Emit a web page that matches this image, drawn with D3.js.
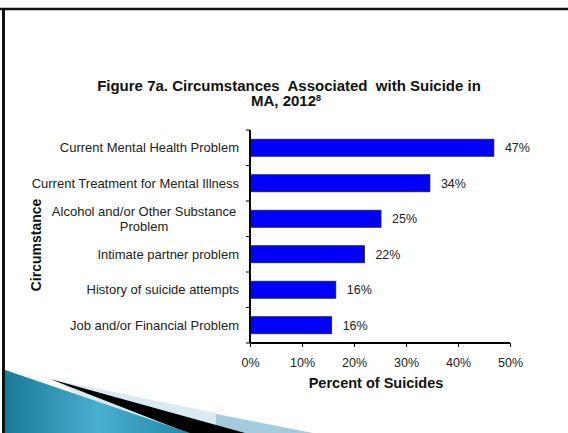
<!DOCTYPE html>
<html>
<head>
<meta charset="utf-8">
<script src="https://cdn.jsdelivr.net/npm/d3@7"></script>
<style>
  html, body { margin: 0; padding: 0; background: #fff; overflow: hidden; }
  svg { display: block; font-family: "Liberation Sans", Arial, sans-serif; }
</style>
</head>
<body>
<div id="chart"></div>
<script>
// Data
const categories = [
  "Current Mental Health Problem",
  "Current Treatment for Mental Illness",
  "Alcohol and/or Other Substance Problem",
  "Intimate partner problem",
  "History of suicide attempts",
  "Job and/or Financial Problem"
];
const values = [46.9, 34.6, 25.2, 22.0, 16.5, 15.7];
const valueLabels = ["47%", "34%", "25%", "22%", "16%", "16%"];
const xTicks = [0, 10, 20, 30, 40, 50];

// wrapped category label
const labelLines = {
  "Alcohol and/or Other Substance Problem": ["Alcohol and/or Other Substance", "Problem"]
};

const width = 568, height = 433;
const margin = { top: 130, left: 250 };
const innerWidth = 510 - margin.left;
const innerHeight = 343 - margin.top;

const svg = d3.select("#chart").append("svg")
  .attr("width", width)
  .attr("height", height)
  .attr("viewBox", `0 0 ${width} ${height}`);

// slide frame
svg.append("line").attr("x1", 0).attr("x2", width).attr("y1", 9).attr("y2", 9)
  .attr("stroke", "#111").attr("stroke-width", 2.5);
svg.append("line").attr("x1", 3.5).attr("x2", 3.5).attr("y1", 8).attr("y2", height)
  .attr("stroke", "#111").attr("stroke-width", 3);

// bottom-left slide decoration
const defs = svg.append("defs");
const grad = defs.append("linearGradient").attr("id", "teal")
  .attr("x1", "0%").attr("y1", "0%").attr("x2", "100%").attr("y2", "0%");
grad.append("stop").attr("offset", "0%").attr("stop-color", "#1a7a96");
grad.append("stop").attr("offset", "50%").attr("stop-color", "#4aaed0");
grad.append("stop").attr("offset", "100%").attr("stop-color", "#1f8aa8");

const deco = svg.append("g");
deco.append("polygon").attr("points", "60,381 216,413 216,433 120,433").attr("fill", "#d9eaf1");
deco.append("polygon").attr("points", "216,414 313,433 216,433").attr("fill", "#a3cbdd");
deco.append("polygon").attr("points", "50,379 245,433 188,433").attr("fill", "#000");
deco.append("polygon").attr("points", "5,370 190,433 5,433").attr("fill", "url(#teal)");

// title
const title = svg.append("text")
  .attr("text-anchor", "middle")
  .attr("font-weight", "bold")
  .attr("font-size", 15)
  .attr("fill", "#111")
  .style("white-space", "pre");
title.append("tspan").attr("x", 289).attr("y", 91).text("Figure 7a. Circumstances  Associated  with Suicide in");
title.append("tspan").attr("x", 286).attr("y", 106).text("MA, 2012");
title.append("tspan").attr("dy", -5).attr("font-size", 9).text("8");

const plot = svg.append("g").attr("transform", `translate(${margin.left},${margin.top})`);

const x = d3.scaleLinear().domain([0, 50]).range([0, innerWidth]);
const y = d3.scaleBand().domain(categories).range([0, innerHeight]).paddingInner(0.52).paddingOuter(0.26);

// bars
plot.selectAll("rect.bar")
  .data(categories)
  .join("rect")
  .attr("class", "bar")
  .attr("x", 0)
  .attr("y", d => y(d))
  .attr("width", (d, i) => x(values[i]))
  .attr("height", y.bandwidth())
  .attr("fill", "#0000ff")
  .attr("stroke", "#1a1a40")
  .attr("stroke-width", 0.8);

// value labels
plot.selectAll("text.val")
  .data(categories)
  .join("text")
  .attr("class", "val")
  .attr("x", (d, i) => x(values[i]) + 11)
  .attr("y", d => y(d) + y.bandwidth() / 2 + 4.5)
  .attr("font-size", 12.5)
  .attr("fill", "#222")
  .text((d, i) => valueLabels[i]);

// x axis
const xAxis = plot.append("g")
  .attr("transform", `translate(0,${innerHeight})`)
  .call(d3.axisBottom(x).tickValues(xTicks).tickSize(4).tickFormat(d => d + "%"));
xAxis.select(".domain").attr("stroke", "#000").attr("stroke-width", 2).attr("d", `M0,0H${innerWidth}`);
xAxis.selectAll(".tick line").attr("stroke", "#000");
xAxis.selectAll(".tick text")
  .attr("font-size", 12.5)
  .attr("fill", "#222")
  .attr("y", 24)
  .attr("dy", 0)
  .attr("font-family", "Liberation Sans, Arial, sans-serif");

// y axis: ticks sit at band boundaries
const boundaries = d3.range(categories.length + 1).map(i => i * y.step());
const yAxis = plot.append("g");
yAxis.append("line").attr("x1", 0).attr("x2", 0).attr("y1", 0).attr("y2", innerHeight)
  .attr("stroke", "#000").attr("stroke-width", 2);
yAxis.selectAll("line.tk").data(boundaries).join("line").attr("class", "tk")
  .attr("x1", -4).attr("x2", 0).attr("y1", d => d).attr("y2", d => d)
  .attr("stroke", "#000");

// category labels
plot.selectAll("text.cat")
  .data(categories)
  .join("text")
  .attr("class", "cat")
  .attr("font-size", 13)
  .attr("fill", "#222")
  .each(function(d) {
    const lines = labelLines[d] || [d];
    const cy = y(d) + y.bandwidth() / 2;
    const sel = d3.select(this);
    if (lines.length === 1) {
      sel.attr("text-anchor", "end").attr("x", -11).attr("y", cy + 4.5).text(d);
    } else {
      sel.attr("text-anchor", "middle");
      lines.forEach((ln, i) => {
        const off = (i - (lines.length - 1) / 2) * 15.5;
        sel.append("tspan").attr("x", -106).attr("y", cy + off + 4.5).text(ln);
      });
    }
  });

// axis titles
svg.append("text")
  .attr("transform", "translate(40.5,245) rotate(-90)")
  .attr("text-anchor", "middle")
  .attr("font-weight", "bold")
  .attr("font-size", 14)
  .attr("fill", "#111")
  .text("Circumstance");

svg.append("text")
  .attr("x", 376)
  .attr("y", 388)
  .attr("text-anchor", "middle")
  .attr("font-weight", "bold")
  .attr("font-size", 14.5)
  .attr("fill", "#111")
  .text("Percent of Suicides");
</script>
</body>
</html>
